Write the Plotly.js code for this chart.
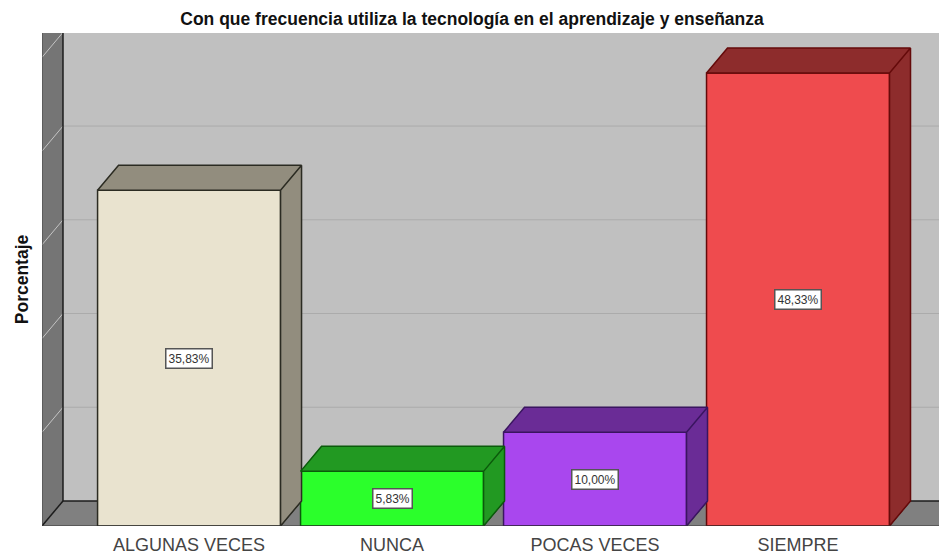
<!DOCTYPE html>
<html><head><meta charset="utf-8">
<script src="https://cdn.plot.ly/plotly-3.0.1.min.js"></script>
<style>html,body{margin:0;padding:0;background:#fff}#c{width:939px;height:555px}</style>
</head><body><div id="c"></div>
<script>
var categories = ['ALGUNAS VECES','NUNCA','POCAS VECES','SIEMPRE'];
var values = [35.83, 5.83, 10.00, 48.33];
var valueLabels = ['35,83%','5,83%','10,00%','48,33%'];
var gridValues = [10,20,30,40,50];
var frontColors = ['#E9E3CF','#2BFF2B','#A947EE','#EF4B4E'];
var sideColors = ['#928D7E','#229922','#6A2C96','#8D2C2C'];
var edgeColors = ['#2b2b22','#0B5A0B','#3A1560','#640A0A'];

var X0=-0.7245, X1=3.6945, YTOP=52.6;
var dx=0.1034, dy=2.67, w=0.9015;
var xs=categories.map(function(_,i){return i;});
var traces=[];

categories.forEach(function(c,i){
  var l=i-w/2, r=i+w/2, v=values[i];
  traces.push({type:'scatter',mode:'lines',fill:'toself',fillcolor:sideColors[i],hoverinfo:'skip',showlegend:false,
    line:{color:edgeColors[i],width:1.5},
    x:[l,l+dx,r+dx,r,l,r,r+dx,r+dx,r,r],
    y:[v,v+dy,v+dy,v,v,v,v+dy,dy,0,v]});
});
traces.unshift({type:'bar',x:xs,y:values,width:w,hoverinfo:'skip',showlegend:false,
  marker:{color:frontColors,line:{color:edgeColors,width:1.5}}});

var wall='#757575', floor='#808080';
var shapes=[
 {type:'path',layer:'below',xref:'x',yref:'y',fillcolor:'#C0C0C0',line:{width:0},
  path:'M'+(X0+dx)+','+dy+' L'+X1+','+dy+' L'+X1+','+YTOP+' L'+(X0+dx)+','+YTOP+' Z'},
 {type:'path',layer:'below',xref:'x',yref:'y',fillcolor:floor,line:{width:0},
  path:'M'+X0+',0 L'+(X0+dx)+','+dy+' L'+X1+','+dy+' L'+X1+',0 Z'},
 {type:'path',layer:'below',xref:'x',yref:'y',fillcolor:wall,line:{width:0},
  path:'M'+X0+',0 L'+(X0+dx)+','+dy+' L'+(X0+dx)+','+YTOP+' L'+X0+','+YTOP+' Z'}
];
gridValues.forEach(function(g){
  shapes.push({type:'line',layer:'below',xref:'x',yref:'y',x0:X0+dx,x1:X1,y0:g+dy,y1:g+dy,line:{color:'#ABABAB',width:1}});
  shapes.push({type:'line',layer:'below',xref:'x',yref:'y',x0:X0,x1:X0+dx,y0:g,y1:g+dy,line:{color:'#C4C4C4',width:1}});
});
// wall edges
shapes.push({type:'line',layer:'below',xref:'x',yref:'y',x0:X0+dx,x1:X0+dx,y0:dy,y1:YTOP,line:{color:'#1c1c1c',width:1.5}});
shapes.push({type:'line',layer:'below',xref:'x',yref:'y',x0:X0+dx,x1:X1,y0:dy,y1:dy,line:{color:'#1c1c1c',width:1.5}});
shapes.push({type:'line',layer:'below',xref:'x',yref:'y',x0:X0,x1:X0+dx,y0:0,y1:dy,line:{color:'#1c1c1c',width:1.5}});
shapes.push({type:'line',layer:'below',xref:'x',yref:'y',x0:X0,x1:X0,y0:0,y1:YTOP,line:{color:'#444',width:1}});
shapes.push({type:'line',layer:'above',xref:'x',yref:'y',x0:X0,x1:X1,y0:0,y1:0,line:{color:'#333',width:1.2}});
categories.forEach(function(c,i){
  shapes.push({type:'line',layer:'below',xref:'x',yref:'y',x0:i+w/2,x1:i+w/2+dx,y0:0,y1:dy,line:{color:'#1c1c1c',width:1}});
});

var annotations=categories.map(function(c,i){
  return {x:i,y:values[i]/2,xref:'x',yref:'y',text:valueLabels[i],showarrow:false,
    bgcolor:'#fff',bordercolor:'#555',borderwidth:1.5,borderpad:2,
    font:{family:'Liberation Sans, Arial, sans-serif',size:12,color:'#333'}};
});

Plotly.newPlot('c',traces,{
  width:939,height:555,margin:{l:42,r:0,t:33,b:29},
  paper_bgcolor:'#fff',plot_bgcolor:'#C0C0C0',showlegend:false,
  title:{text:'Con que frecuencia utiliza la tecnología en el aprendizaje y enseñanza',
    x:472/939,xanchor:'center',y:0.966,yanchor:'middle',
    font:{family:'Liberation Sans, Arial, sans-serif',size:17.5,color:'#111',weight:700}},
  xaxis:{type:'linear',range:[X0,X1],tickmode:'array',tickvals:xs,ticktext:categories,
    showgrid:false,zeroline:false,showline:false,ticks:'',ticklabelstandoff:6,
    tickfont:{family:'Liberation Sans, Arial, sans-serif',size:18,color:'#444'}},
  yaxis:{range:[0,YTOP],showgrid:false,zeroline:false,showline:false,ticks:'',showticklabels:false,
    title:{text:'Porcentaje',standoff:7,font:{family:'Liberation Sans, Arial, sans-serif',size:17.5,color:'#111',weight:700}}},
  shapes:shapes,annotations:annotations,bargap:0
},{displayModeBar:false,staticPlot:true});
</script></body></html>
